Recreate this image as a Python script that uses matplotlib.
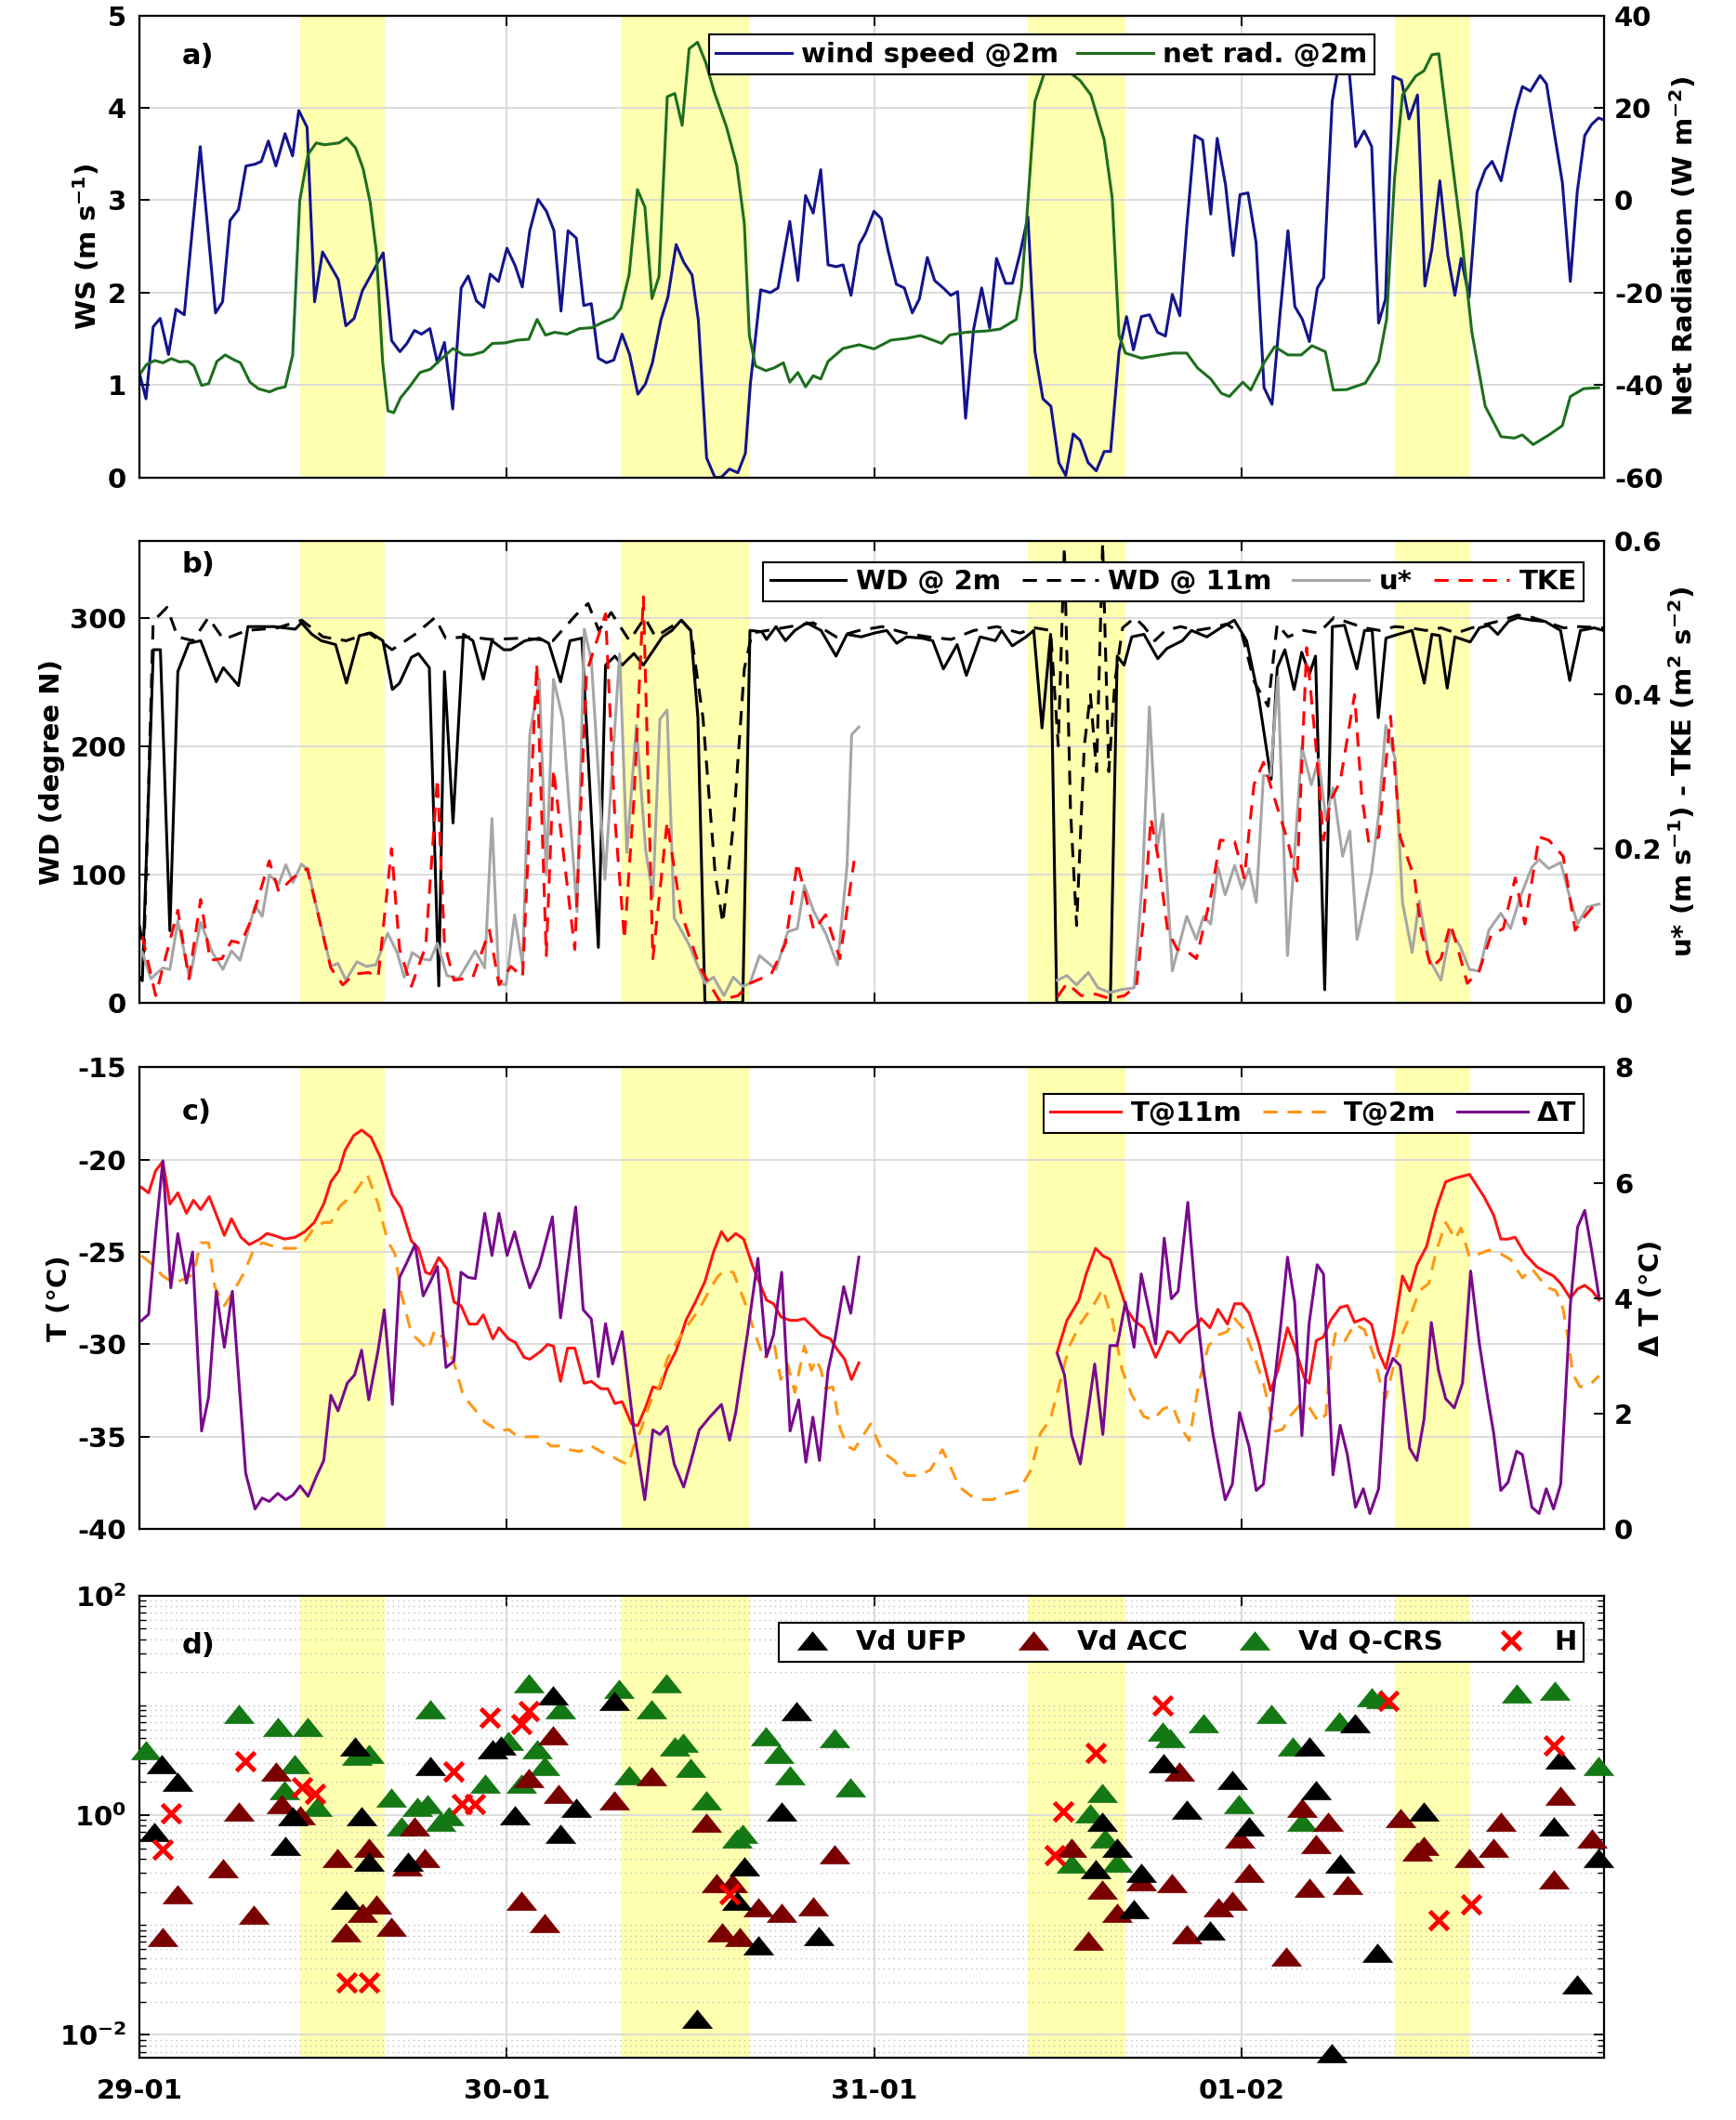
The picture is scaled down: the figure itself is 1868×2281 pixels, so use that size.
import numpy as np
import matplotlib
matplotlib.use("Agg")
import matplotlib.pyplot as plt
from matplotlib.lines import Line2D
from matplotlib.ticker import LogLocator, NullFormatter

plt.rcParams['font.family'] = ['DejaVu Sans']
plt.rcParams['font.weight'] = 'bold'
plt.rcParams['axes.labelweight'] = 'bold'
plt.rcParams['mathtext.fontset'] = 'dejavusans'
plt.rcParams['mathtext.default'] = 'bf'
plt.rcParams['axes.unicode_minus'] = False
plt.rcParams['font.size'] = 21

# time axis: hours since 29-01 00:00
day_labels = ["29-01", "30-01", "31-01", "01-02"]
day_spans_h = [(10.5, 16.0), (31.5, 39.9), (58.0, 64.4), (82.0, 86.9)]

# ---- panel a: (hour, value)
ws_pts = [(0.0,1.13),(0.43,0.85),(0.9,1.63),(1.36,1.72),(1.9,1.33),(2.39,1.82),(2.93,1.76),(3.97,3.58),
          (4.97,1.78),(5.43,1.9),(5.92,2.78),(6.47,2.9),(6.96,3.37),(7.55,3.39),(7.96,3.42),(8.42,3.64),
          (8.91,3.37),(9.51,3.72),(10.0,3.48),(10.41,3.97),(10.95,3.79),(11.44,1.9),(11.96,2.44),(12.99,2.14),
          (13.48,1.64),(14.02,1.72),(14.56,2.02),(15.92,2.43),(16.47,1.48),(17.01,1.36),(17.47,1.45),(17.96,1.59),
          (18.42,1.55),(18.97,1.61),(19.46,1.24),(19.92,1.46),(20.46,0.74),(21.01,2.05),(21.47,2.18),(22.01,1.91),
          (22.5,1.84),(22.91,2.2),(23.45,2.12),(24.0,2.48),(24.54,2.29),(25.0,2.06),(25.49,2.67),(26.03,3.01),
          (26.58,2.88),(27.07,2.67),(27.53,1.8),(27.99,2.67),(28.53,2.59),(29.02,1.86),(29.51,1.88),(29.97,1.29),
          (30.5,1.24),(30.98,1.27),(31.52,1.55),(32.01,1.33),(32.55,0.9),(33.04,1.01),(33.5,1.24),(34.05,1.7),
          (34.51,1.95),(35.05,2.52),(35.54,2.33),(36.09,2.19),(36.5,1.7),(37.04,0.21),(37.58,0.0),(37.99,0.0),
          (38.53,0.09),(39.08,0.05),(39.57,0.26),(39.89,1.0),(40.57,2.03),(41.2,2.0),(41.7,2.05),(42.47,2.77),
          (43.0,2.13),(43.5,3.05),(44.0,2.86),(44.49,3.33),(44.97,2.3),(45.5,2.28),(45.95,2.3),(46.47,1.97),
          (47.0,2.52),(47.41,2.64),(47.97,2.88),(48.45,2.8),(48.91,2.44),(49.43,2.09),(49.95,2.05),(50.47,1.78),
          (50.93,1.93),(51.45,2.38),(51.93,2.13),(52.49,2.05),(52.98,1.97),(53.43,2.01),(53.95,0.64),(54.47,1.6),
          (55.0,2.05),(55.52,1.62),(55.97,2.37),(56.56,2.1),(57.01,2.1),(57.5,2.42),(58.02,2.82),(58.48,1.36),
          (59.0,0.85),(59.52,0.77),(60.04,0.16),(60.49,0.02),(60.98,0.47),(61.43,0.4),(61.95,0.16),(62.48,0.07),
          (63.0,0.28),(63.42,0.28),(63.97,1.36),(64.46,1.74),(64.91,1.38),(65.43,1.74),(65.96,1.76),(66.48,1.57),
          (67.0,1.53),(67.45,1.98),(67.94,1.75),(68.39,2.71),(68.91,3.7),(69.43,3.65),(69.96,2.85),(70.38,3.67),
          (70.93,3.16),(71.42,2.4),(71.87,3.06),(72.39,3.08),(72.92,2.54),(73.44,0.97),(73.96,0.79),(74.48,1.76),
          (75.0,2.67),(75.45,1.85),(75.94,1.71),(76.4,1.47),(76.92,2.05),(77.33,2.16),(77.89,4.07),(78.4,4.55),
          (79.0,4.4),(79.42,3.58),(79.98,3.75),(80.47,3.58),(80.92,1.67),(81.37,1.93),(81.86,4.34),(82.41,4.3),
          (82.9,3.88),(83.46,4.14),(83.94,2.07),(84.4,2.47),(84.92,3.21),(85.44,2.4),(85.9,1.97),(86.31,2.37),
          (86.83,1.95),(87.35,3.09),(87.88,3.33),(88.33,3.42),(88.92,3.21),(89.37,3.58),(89.86,3.97),(90.31,4.23),
          (90.83,4.18),(91.46,4.35),(91.88,4.26),(92.4,3.72),(92.92,3.19),(93.44,2.12),(93.89,3.09),(94.38,3.7),
          (94.83,3.82),(95.28,3.89),(95.6,3.87)]

netrad_pts = [(0.11,-37.3),(0.46,-35.6),(1.0,-34.7),(1.54,-35.2),(2.08,-34.3),(2.62,-35.0),(3.17,-34.9),(3.57,-35.9),
              (4.06,-40.1),(4.52,-39.7),(5.06,-34.9),(5.6,-33.5),(6.14,-34.5),(6.6,-35.2),(7.22,-39.4),(7.77,-40.8),
              (8.5,-41.5),(8.98,-40.8),(9.52,-40.4),(10.01,-33.5),(10.47,-0.1),(11.01,9.9),(11.55,12.4),(12.09,12.0),
              (13.04,12.4),(13.53,13.5),(14.12,11.3),(14.61,6.8),(15.07,-0.5),(15.48,-11.3),(15.88,-34.9),(16.23,-45.6),
              (16.61,-46.0),(17.05,-42.8),(17.64,-40.4),(18.32,-37.3),(18.99,-36.6),(19.67,-34.5),(20.48,-32.1),
              (21.16,-33.5),(21.7,-33.5),(22.46,-32.8),(23.05,-31.0),(23.86,-30.9),(24.68,-30.3),(25.43,-30.1),
              (25.97,-25.8),(26.52,-29.2),(27.11,-28.6),(27.92,-29.0),(28.73,-27.8),(29.55,-27.6),(30.22,-26.5),
              (30.95,-25.5),(31.44,-23.4),(31.98,-16.1),(32.52,2.3),(33.01,-1.5),(33.47,-21.3),(33.93,-16.5),
              (34.47,22.4),(34.96,23.1),(35.44,16.2),(35.9,32.8),(36.45,34.2),(36.99,29.7),(37.53,23.5),(38.34,15.8),
              (39.01,7.5),(39.5,-5.0),(39.83,-29.3),(40.23,-35.9),(40.91,-36.9),(41.45,-36.3),(42.05,-35.2),
              (42.47,-39.4),(43.0,-37.3),(43.5,-40.4),(44.0,-38.0),(44.49,-38.7),(44.97,-34.9),(45.95,-32.1),
              (47.0,-31.3),(47.97,-32.2),(49.08,-30.3),(50.12,-29.9),(51.0,-29.3),(52.39,-31.0),(52.91,-29.2),
              (53.95,-28.6),(55.34,-28.3),(56.21,-27.9),(57.26,-25.8),(57.6,-18.9),(57.95,-3.6),(58.48,21.4),
              (59.17,28.3),(60.21,29.0),(61.43,25.9),(62.13,22.8),(63.0,13.1),(63.52,0.6),(63.97,-29.3),(64.39,-33.1),
              (65.43,-34.2),(66.48,-33.6),(67.52,-33.1),(68.39,-33.1),(69.09,-36.3),(69.96,-38.7),(70.65,-41.8),
              (71.17,-42.5),(72.05,-39.4),(72.57,-41.1),(73.44,-35.2),(74.13,-31.7),(75.0,-33.5),(75.87,-33.5),
              (76.57,-31.5),(77.44,-32.8),(77.96,-41.1),(78.83,-41.0),(80.05,-39.6),(80.92,-34.9),(81.44,-25.8),
              (81.96,4.7),(82.48,22.8),(83.35,26.9),(83.88,28.0),(84.4,31.5),(84.85,31.7),(85.44,15.8),(86.31,-7.1),
              (87.01,-28.6),(87.88,-44.6),(88.92,-51.2),(89.79,-51.5),(90.31,-50.8),(91.01,-52.9),(92.05,-50.8),
              (92.92,-48.8),(93.44,-42.5),(94.31,-40.8),(95.29,-40.6)]

# ---- panel b
wd2_pts = [(0.0,20),(0.19,17),(0.91,275),(1.37,275),(1.99,56),(2.51,258),(3.23,280),(4.0,282),(5.02,250),(5.48,261),
           (6.47,247),(7.09,293),(8.79,293),(10.18,291),(10.58,296),(11.26,287),(11.88,282),(12.81,279),(13.52,249),
           (14.36,286),(15.13,288),(15.9,282),(16.52,244),(16.99,249),(17.76,269),(18.22,272),(18.93,261),(19.55,13),
           (19.92,258),(20.48,140),(21.16,287),(21.78,282),(22.46,252),(23.02,282),(23.79,275),(24.25,275),
           (25.18,282),(26.11,284),(26.73,280),(27.5,250),(28.12,282),(28.89,284),(29.97,43),(30.44,263),(31.05,270),
           (31.52,263),(32.29,272),(32.91,263),(34.15,285),(34.77,290),(35.38,298),(36.0,290),(36.47,222),(36.93,0),
           (39.4,0),(39.87,290),(40.64,289),(40.95,283),(41.57,293),(42.19,282),(42.8,290),(43.58,296),(44.51,290),
           (45.49,270),(46.2,287),(47.13,285),(48.0,288),(48.8,290),(49.45,280),(50.1,285),(51.1,284),(51.8,282),
           (52.5,260),(53.4,279),(54.0,255),(54.9,285),(55.9,282),(56.3,290),(57.0,278),(57.9,285),(58.4,290),
           (58.94,214),(59.5,287),(59.9,0),(63.4,0),(63.85,270),(64.3,263),(64.8,285),(65.6,287),(66.5,268),
           (67.1,276),(68.1,282),(68.7,290),(69.7,285),(70.6,292),(71.5,298),(72.3,282),(73.1,237),(73.9,174),
           (74.3,261),(74.8,275),(75.4,244),(75.9,273),(76.4,256),(76.8,270),(77.4,10),(77.9,293),(78.7,294),
           (79.5,260),(80.0,290),(80.5,290),(80.9,222),(81.4,284),(82.2,287),(83.1,290),(83.9,249),(84.4,287),
           (84.9,286),(85.4,245),(85.9,285),(86.9,281),(87.5,292),(88.1,294),(88.7,287),(89.4,297),(90.0,300),
           (90.9,298),(91.8,297),(92.8,290),(93.4,251),(94.1,290),(95.0,292),(95.6,290)]

wd11_pts = [(0.0,60),(0.3,40),(0.9,297),(1.8,308),(2.5,285),(3.5,282),(4.5,300),(5.5,283),(7.0,290),(9.0,292),
            (10.6,298),(12.0,285),(13.5,282),(15.0,288),(16.5,275),(18.0,287),(19.3,300),(20.0,284),(21.5,285),
            (23.0,283),(25.0,284),(27.0,282),(28.5,302),(29.3,311),(30.0,290),(30.8,304),(32.0,282),(33.0,300),
            (33.7,285),(35.4,298),(36.0,290),(36.8,222),(37.6,100),(38.1,62),(38.8,140),(39.5,260),(40.0,288),
            (41.0,290),(42.5,293),(44.0,296),(45.5,285),(47.0,290),(48.5,293),(50.0,288),(51.5,285),(53.0,283),
            (54.5,290),(56.0,293),(57.5,288),(58.5,292),(59.5,290),(60.0,200),(60.4,355),(60.8,150),(61.2,60),
            (61.7,200),(62.1,240),(62.5,180),(62.9,358),(63.3,180),(63.7,250),(64.2,292),(65.0,300),(65.6,293),
            (66.3,282),(67.0,290),(68.0,293),(69.0,290),(70.0,292),(71.0,295),(72.0,287),(72.8,250),(73.7,231),
            (74.3,295),(75.0,285),(76.0,290),(77.0,288),(78.0,300),(79.0,296),(80.0,292),(81.0,290),(82.0,293),
            (83.0,292),(84.0,290),(85.0,292),(86.0,288),(87.0,292),(88.0,295),(89.0,298),(90.0,302),(91.0,300),
            (92.0,296),(93.0,292),(94.0,293),(95.6,292)]

ustar_pts = [(0.19,0.065),(0.75,0.031),(1.52,0.045),(1.99,0.043),(2.51,0.106),(3.29,0.031),(4.0,0.104),(4.77,0.065),
             (5.45,0.043),(6.01,0.067),(6.57,0.055),(7.55,0.126),(8.02,0.112),(8.48,0.166),(9.1,0.154),(9.56,0.179),
             (10.03,0.156),(10.58,0.18),(11.02,0.172),(11.73,0.11),(12.5,0.047),(12.96,0.051),(13.49,0.029),
             (14.2,0.053),(14.82,0.047),(15.44,0.049),(16.21,0.09),(16.83,0.065),(17.29,0.033),(17.82,0.065),
             (18.38,0.057),(18.99,0.055),(19.46,0.077),(20.08,0.035),(20.85,0.031),(21.93,0.067),(22.55,0.045),
             (23.02,0.239),(23.48,0.025),(23.94,0.023),(24.5,0.114),(25.02,0.049),(25.49,0.348),(26.11,0.42),
             (26.57,0.166),(27.04,0.42),(27.65,0.368),(28.58,0.118),(29.05,0.485),(29.51,0.445),(30.4,0.16),
             (31.36,0.453),(31.83,0.195),(32.45,0.36),(33.06,0.198),(33.53,0.138),(33.99,0.368),(34.46,0.38),
             (34.92,0.11),(35.85,0.077),(36.93,0.025),(37.49,0.033),(38.17,0.009),(38.78,0.033),(39.4,0.021),
             (39.87,0.025),(40.49,0.061),(41.57,0.043),(42.34,0.092),(42.96,0.096),(43.42,0.152),(44.04,0.118),
             (44.81,0.09),(45.59,0.049),(46.21,0.178),(46.51,0.348),(46.98,0.358),(53.0,np.nan),
             (59.94,0.029),(60.57,0.035),(61.19,0.023),(61.97,0.039),(62.6,0.019),(63.38,0.013),(64.17,0.017),
             (64.95,0.019),(65.51,0.162),(65.95,0.384),(66.45,0.199),(66.83,0.245),(67.45,0.041),(68.39,0.112),
             (69.02,0.082),(69.49,0.112),(69.96,0.102),(70.43,0.176),(70.9,0.14),(71.52,0.178),(71.99,0.148),
             (72.46,0.174),(72.93,0.13),(73.4,0.295),(73.87,0.295),(74.34,0.423),(74.97,0.061),(75.44,0.195),
             (75.91,0.332),(76.53,0.283),(77.0,0.316),(77.47,0.239),(77.94,0.279),(78.57,0.19),(79.04,0.223),
             (79.51,0.082),(80.45,0.168),(80.92,0.243),(81.39,0.36),(82.01,0.316),(82.48,0.13),(83.11,0.065),
             (83.58,0.132),(84.2,0.057),(84.99,0.029),(85.61,0.094),(86.24,0.073),(86.86,0.043),(87.49,0.041),
             (88.12,0.094),(88.9,0.116),(89.53,0.096),(90.15,0.136),(90.93,0.176),(91.4,0.186),(92.03,0.174),
             (92.81,0.182),(93.44,0.134),(93.91,0.102),(94.54,0.124),(95.32,0.128)]

tke_pts = [(0.19,0.086),(1.06,0.009),(2.51,0.12),(3.23,0.031),(4.0,0.134),(4.62,0.055),(5.39,0.057),(6.01,0.08),
           (6.63,0.077),(7.4,0.112),(8.48,0.184),(9.1,0.144),(10.03,0.162),(10.96,0.174),(12.5,0.045),(13.28,0.023),
           (14.05,0.037),(14.98,0.039),(15.59,0.033),(16.46,0.2),(16.99,0.069),(17.76,0.021),(18.69,0.073),
           (19.46,0.291),(19.92,0.077),(20.54,0.029),(21.78,0.033),(22.86,0.094),(23.48,0.023),(24.25,0.047),
           (25.02,0.033),(25.95,0.44),(26.57,0.061),(27.04,0.303),(28.43,0.069),(29.2,0.429),(30.44,0.505),
           (31.05,0.239),(31.67,0.082),(32.29,0.263),(32.91,0.527),(33.53,0.057),(34.46,0.235),(35.38,0.116),
           (36.62,0.045),(37.86,0.003),(39.09,0.009),(39.87,0.025),(41.26,0.037),(42.19,0.077),(42.96,0.182),
           (44.04,0.094),(44.81,0.114),(45.74,0.057),(46.67,0.184),(53.0,np.nan),
           (59.94,0.007),(60.57,0.025),(61.5,0.009),(62.44,0.011),(63.38,0.005),(64.32,0.009),(65.1,0.021),
           (65.58,0.11),(66.05,0.239),(66.51,0.19),(67.14,0.094),(67.77,0.069),(68.39,0.067),(69.02,0.057),
           (69.96,0.138),(70.58,0.211),(71.52,0.209),(72.15,0.162),(72.78,0.283),(73.4,0.312),(74.03,0.271),
           (74.97,0.211),(75.59,0.158),(76.22,0.461),(76.85,0.328),(77.32,0.211),(77.79,0.263),(78.41,0.287),
           (79.35,0.4),(79.82,0.267),(80.29,0.207),(80.92,0.215),(81.7,0.372),(82.33,0.215),(83.26,0.162),
           (83.73,0.09),(84.36,0.045),(84.99,0.057),(85.61,0.102),(86.08,0.071),(86.71,0.025),(87.49,0.041),
           (88.27,0.088),(89.06,0.096),(89.84,0.162),(90.47,0.102),(91.4,0.215),(92.03,0.211),(92.97,0.19),
           (93.75,0.094),(94.38,0.112),(95.32,0.134)]

# ---- panel c
t11_pts = [(0.13,-21.5),(0.6,-21.8),(1.06,-20.6),(1.53,-20.1),(1.99,-22.4),(2.51,-21.8),(3.07,-22.9),(3.53,-22.2),
           (4.0,-22.7),(4.56,-22.0),(5.55,-24.1),(6.01,-23.2),(6.63,-24.2),(7.18,-24.6),(7.86,-24.3),(8.33,-24.0),
           (8.79,-24.1),(9.47,-24.3),(10.18,-24.2),(10.8,-23.9),(11.42,-23.4),(12.04,-22.4),(12.5,-21.2),
           (13.03,-20.6),(13.43,-19.5),(13.99,-18.7),(14.51,-18.4),(15.13,-18.8),(15.75,-19.9),(16.52,-21.9),
           (17.08,-22.6),(17.76,-24.4),(18.22,-24.8),(18.69,-26.1),(19.0,-26.2),(19.55,-25.3),(20.08,-25.9),
           (20.54,-27.7),(21.0,-27.9),(21.53,-28.9),(22.03,-28.9),(22.46,-28.4),(23.08,-29.7),(23.48,-29.1),
           (24.1,-29.7),(24.56,-29.9),(25.12,-30.7),(25.49,-30.8),(26.17,-30.4),(26.66,-30.0),(27.04,-30.1),
           (27.5,-32.0),(27.96,-30.2),(28.43,-30.2),(29.04,-32.1),(29.51,-32.0),(30.13,-32.4),(30.59,-32.4),
           (31.05,-33.2),(31.52,-33.1),(32.14,-34.3),(32.54,-34.4),(33.06,-33.4),(33.53,-32.3),(33.99,-32.4),
           (34.46,-31.3),(35.07,-30.3),(35.69,-28.7),(36.31,-27.7),(36.93,-26.6),(37.49,-25.0),(38.01,-23.9),
           (38.41,-24.4),(38.94,-24.0),(39.46,-24.3),(40.02,-25.7),(40.95,-27.6),(41.41,-27.8),(41.88,-28.5),
           (42.49,-28.7),(42.96,-28.7),(43.42,-28.6),(44.04,-29.1),(44.51,-29.5),(45.12,-29.7),(45.59,-30.3),
           (46.05,-30.8),(46.5,-31.9),(46.98,-31.0),(53.0,np.nan),
           (59.94,-30.4),(60.57,-28.7),(61.35,-27.6),(61.82,-26.2),(62.44,-24.8),(62.91,-25.2),(63.38,-25.4),
           (63.85,-26.5),(64.48,-28.1),(64.95,-28.7),(65.58,-29.1),(66.36,-30.7),(67.14,-29.3),(67.45,-29.4),
           (67.92,-29.9),(68.39,-29.4),(69.02,-29.0),(69.33,-28.6),(69.9,-29.1),(70.43,-28.1),(71.05,-28.9),
           (71.52,-27.8),(71.99,-27.8),(72.46,-28.3),(73.09,-29.9),(73.87,-32.5),(74.34,-31.4),(74.97,-29.1),
           (75.44,-30.1),(76.06,-31.8),(76.38,-32.1),(76.85,-29.8),(77.32,-29.6),(77.79,-28.7),(78.41,-28.0),
           (78.88,-27.9),(79.35,-28.8),(79.98,-28.6),(80.45,-28.9),(80.92,-30.4),(81.39,-31.3),(81.86,-29.6),
           (82.48,-26.3),(82.95,-27.1),(83.42,-25.7),(84.05,-24.7),(84.67,-22.7),(85.3,-21.2),(85.93,-21.0),
           (86.4,-20.9),(86.86,-20.8),(87.8,-22.0),(88.43,-23.0),(88.9,-24.3),(89.37,-24.3),(89.84,-24.2),
           (90.47,-25.1),(91.25,-25.8),(91.87,-26.1),(92.34,-26.3),(92.81,-26.7),(93.44,-27.5),(93.91,-27.0),
           (94.38,-26.8),(94.85,-27.1),(95.32,-27.6)]

t2_pts = [(0.13,-25.2),(0.75,-25.6),(1.53,-26.3),(2.3,-26.7),(3.07,-26.4),(3.53,-26.2),(4.0,-24.5),(4.52,-24.5),
          (4.93,-26.9),(5.55,-27.9),(6.16,-27.1),(6.78,-26.2),(7.4,-25.0),(8.02,-24.5),(8.79,-24.7),(9.41,-24.8),
          (10.18,-24.8),(10.8,-24.4),(11.42,-23.7),(12.04,-23.4),(12.5,-23.4),(13.12,-22.5),(14.05,-21.8),
          (14.88,-20.8),(15.59,-22.4),(16.21,-24.4),(16.68,-25.1),(17.14,-27.4),(17.76,-29.4),(18.38,-29.9),
          (18.84,-30.3),(19.3,-29.2),(19.92,-29.7),(20.54,-31.0),(21.16,-32.8),(21.78,-33.4),(22.55,-34.2),
          (23.48,-34.7),(24.1,-34.6),(24.72,-35.0),(25.49,-35.0),(26.11,-35.0),(26.88,-35.5),(27.5,-35.5),
          (28.12,-35.7),(28.74,-35.8),(29.51,-35.5),(30.13,-35.8),(30.75,-36.0),(31.36,-36.3),(31.92,-36.5),
          (32.29,-35.5),(32.76,-34.6),(33.37,-33.1),(33.99,-32.2),(34.46,-30.8),(35.07,-29.9),(35.69,-29.1),
          (36.47,-28.2),(37.08,-27.3),(37.7,-26.4),(38.17,-26.0),(38.78,-26.1),(39.25,-27.1),(39.71,-28.1),
          (40.18,-29.4),(40.8,-30.8),(41.41,-29.8),(41.88,-31.9),(42.34,-31.1),(42.8,-32.6),(43.42,-30.1),
          (43.89,-31.4),(44.2,-30.8),(44.51,-31.4),(44.81,-32.4),(45.28,-32.3),(45.74,-34.5),(46.21,-35.5),
          (46.67,-35.7),(47.29,-34.9),(47.75,-34.3),(48.51,-35.8),(49.3,-36.3),(50.08,-37.1),(50.86,-37.1),
          (51.64,-36.8),(52.43,-35.7),(52.9,-36.5),(53.52,-37.7),(54.3,-38.2),(55.09,-38.4),(55.71,-38.4),
          (56.5,-38.1),(57.43,-37.9),(58.22,-36.8),(58.84,-34.8),(59.47,-34.1),(60.1,-32.1),(60.72,-30.1),
          (61.5,-28.8),(62.29,-27.9),(62.91,-27.0),(63.54,-28.7),(64.17,-31.4),(64.79,-32.7),(65.58,-33.9),
          (66.2,-34.1),(66.83,-33.5),(67.45,-33.3),(68.08,-34.6),(68.55,-35.2),(69.18,-32.1),(69.8,-30.1),
          (70.43,-29.5),(71.05,-29.3),(71.52,-28.6),(72.15,-29.2),(72.78,-30.6),(73.4,-32.1),(73.87,-33.8),
          (74.18,-34.7),(74.65,-34.6),(75.12,-33.9),(75.75,-33.3),(76.38,-33.4),(77.0,-34.2),(77.47,-33.8),
          (77.79,-30.8),(78.1,-29.4),(78.72,-29.8),(79.35,-28.9),(79.98,-29.2),(80.6,-30.6),(81.07,-32.2),
          (81.39,-32.9),(81.86,-31.3),(82.48,-29.4),(83.11,-28.2),(83.58,-27.1),(84.2,-26.7),(84.67,-25.0),
          (85.3,-23.4),(85.93,-24.3),(86.3,-23.7),(86.86,-25.3),(87.49,-25.1),(88.12,-24.9),(88.9,-25.1),
          (89.53,-25.4),(90.31,-26.4),(90.93,-25.9),(91.87,-26.9),(92.5,-27.1),(92.97,-28.1),(93.28,-29.6),
          (93.6,-31.6),(94.07,-32.3),(94.69,-32.2),(95.32,-31.7)]

dt_pts = [(0.13,3.61),(0.6,3.72),(1.06,5.12),(1.53,6.38),(2.05,4.18),(2.51,5.12),(3.07,4.26),(3.47,4.8),(4.06,1.70),
          (4.52,2.29),(5.02,4.12),(5.55,3.15),(6.07,4.12),(6.94,0.97),(7.55,0.35),(8.02,0.54),(8.48,0.48),(9.04,0.62),
          (9.56,0.51),(10.03,0.59),(10.49,0.75),(11.02,0.57),(11.57,0.92),(12.04,1.19),(12.5,2.32),(12.97,2.05),
          (13.58,2.53),(14.05,2.67),(14.51,3.1),(14.98,2.24),(15.59,3.1),(15.99,3.8),(16.52,2.16),(16.99,4.36),
          (17.45,4.61),(18.0,4.93),(18.53,4.04),(18.99,4.28),(19.46,4.55),(20.02,2.8),(20.54,2.91),(21.0,4.45),
          (21.47,4.36),(21.93,4.34),(22.55,5.47),(23.02,4.74),(23.48,5.47),(24.01,4.74),(24.5,5.15),(25.02,4.61),
          (25.49,4.18),(26.11,4.55),(26.97,5.41),(27.5,3.66),(28.49,5.58),(28.98,3.8),(29.51,3.64),(29.97,2.64),
          (30.44,3.56),(30.9,2.86),(31.52,3.42),(32.29,1.72),(33.0,0.51),(33.53,1.72),(33.99,1.64),(34.46,1.78),
          (34.92,1.13),(35.54,0.73),(36.0,1.16),(36.56,1.72),(37.24,1.94),(38.01,2.16),(38.54,1.54),(38.94,2.02),
          (39.71,3.39),(40.39,4.69),(40.95,2.99),(41.41,3.37),(41.94,4.45),(42.49,1.7),(43.05,2.24),(43.52,1.16),
          (43.98,1.94),(44.41,1.19),(44.97,2.75),(45.43,3.31),(45.99,4.2),(46.45,3.74),(46.98,4.71),(53.0,np.nan),
          (59.94,3.04),(60.41,2.67),(60.88,1.62),(61.44,1.13),(61.98,2.1),(62.38,2.86),(62.91,1.64),(63.38,3.18),
          (63.85,3.18),(64.39,3.93),(64.95,3.15),(65.42,4.42),(65.89,3.83),(66.36,3.21),(66.92,5.04),(67.39,3.99),
          (67.83,4.12),(68.46,5.66),(69.02,3.85),(69.49,2.75),(70.12,1.62),(70.9,0.51),(71.37,0.78),(71.84,2.02),
          (72.46,1.43),(72.93,0.67),(73.4,0.78),(74.03,2.32),(74.5,3.45),(74.97,4.71),(75.44,3.93),(75.91,1.62),
          (76.38,3.56),(76.91,4.58),(77.32,4.42),(77.94,0.94),(78.41,1.8),(78.88,1.29),(79.41,0.38),(79.92,0.7),
          (80.35,0.27),(80.92,0.7),(81.39,2.64),(81.86,2.96),(82.33,2.83),(82.95,1.4),(83.42,1.19),(83.89,1.91),
          (84.36,3.58),(84.83,2.75),(85.3,2.26),(85.86,2.1),(86.4,2.53),(86.93,4.47),(87.49,3.23),(88.05,2.26),
          (88.43,1.67),(88.9,0.67),(89.37,0.81),(89.93,1.35),(90.31,1.29),(90.93,0.38),(91.4,0.27),(91.87,0.7),
          (92.34,0.35),(92.81,0.78),(93.44,3.88),(93.91,5.23),(94.38,5.52),(94.85,4.8),(95.3,4.04)]

# ---- panel d (hour, value)
ufp_pts = [(0.96,0.71),(1.47,2.9),(2.49,2.0),(9.53,0.53),(10.04,0.98),(13.48,0.17),(14.05,4.2),(14.5,0.98),
           (15.01,0.38),(17.52,0.38),(18.99,2.8),(23.07,4.0),(23.58,4.3),(24.5,1.0),(26.98,12.3),(27.49,0.68),
           (28.51,1.17),(30.99,11.1),(36.44,0.014),(39.05,0.166),(39.5,0.34),(40.42,0.065),(41.95,1.09),(42.9,8.9),
           (44.39,0.08),(62.45,0.32),(62.9,0.88),(63.85,0.51),(64.95,0.14),(65.4,0.30),(66.89,3.0),(68.4,1.13),
           (69.9,0.09),(71.37,2.1),(72.46,0.79),(76.38,4.2),(76.85,1.7),(77.88,0.0068),(78.41,0.36),(79.35,6.9),
           (80.85,0.056),(83.89,1.09),(92.34,0.79),(92.8,3.2),(93.9,0.029),(95.25,0.41)]
acc_pts = [(1.54,0.078),(2.49,0.19),(5.48,0.33),(6.5,1.09),(7.49,0.124),(8.95,2.5),(9.29,1.26),(10.48,1.0),
           (12.93,0.41),(13.48,0.086),(14.56,0.13),(15.01,0.51),(15.48,0.155),(16.44,0.096),(17.46,0.34),(17.97,0.79),
           (18.65,0.41),(24.94,0.166),(25.45,2.2),(26.47,0.104),(26.98,5.4),(27.39,1.57),(30.99,1.36),(33.44,2.25),
           (37.0,0.85),(37.69,0.24),(38.03,0.086),(38.72,0.24),(39.22,0.078),(40.42,0.144),(41.95,0.13),
           (43.99,0.149),(45.41,0.44),(60.88,0.51),(61.98,0.072),(62.9,0.21),(63.85,0.13),(65.4,0.25),(67.45,0.24),
           (67.92,2.5),(68.4,0.083),(70.43,0.144),(71.37,0.166),(71.84,0.61),(72.46,0.30),(74.9,0.052),(75.9,1.17),
           (76.38,0.22),(76.85,0.55),(77.63,0.88),(78.88,0.23),(82.33,0.94),(83.42,0.47),(83.89,0.53),(86.86,0.41),
           (88.43,0.51),(88.9,0.88),(92.34,0.26),(92.8,1.51),(94.85,0.61)]
qcrs_pts = [(0.45,3.9),(6.47,8.3),(9.02,6.4),(9.46,1.7),(10.14,2.9),(10.99,6.4),(11.57,1.2),(14.22,3.5),(15.01,3.6),
            (16.44,1.46),(17.12,0.79),(18.14,1.2),(18.82,1.26),(18.99,9.2),(19.67,0.88),(20.18,0.98),(22.56,1.95),
            (24.09,4.8),(24.94,1.95),(25.45,15.9),(25.96,4.0),(26.47,2.8),(27.49,9.2),(31.33,14.3),(32.01,2.3),
            (33.44,9.2),(34.4,15.9),(34.97,4.2),(35.48,4.6),(35.99,2.7),(37.0,1.36),(39.05,0.61),(39.39,0.68),
            (40.93,5.2),(41.78,3.6),(42.46,2.3),(45.41,5.0),(46.44,1.8),(60.88,0.36),(62.1,1.05),(62.9,1.6),
            (63.07,0.61),(63.85,0.37),(66.83,5.8),(67.3,5.0),(69.5,6.9),(71.8,1.26),(73.9,8.3),(75.3,4.2),(75.9,0.88),
            (78.35,7.2),(80.45,11.9),(81.07,11.5),(89.93,12.8),(92.4,13.7),(95.3,2.8)]
h_pts = [(1.54,0.49),(2.08,1.05),(6.91,3.1),(10.65,1.8),(11.44,1.57),(13.54,0.030),(15.01,0.030),(20.52,2.5),
         (21.03,1.26),(21.88,1.26),(22.9,7.7),(24.94,6.7),(25.45,8.9),(38.55,0.19),(59.78,0.43),(60.3,1.09),
         (62.45,3.7),(66.83,9.9),(81.54,11.1),(84.83,0.111),(86.96,0.155),(92.34,4.3)]


def series(pts):
    a = np.array(pts, dtype=float)
    return a[:, 0] / 24.0, a[:, 1]


W, H = 1868, 2281
fig = plt.figure(figsize=(W / 100, H / 100), dpi=100)
left, width = 150 / W, 1576 / W
tops = [16.6, 581.7, 1148.3, 1716.8]
hgt = 497
axes = [fig.add_axes([left, 1 - (t + hgt) / H, width, hgt / H]) for t in tops]

grid_c = '#d9d9d9'
yellow = '#ffffb0'
lw = 2.2
dash = (0, (5, 3.5))


def style(ax, twin=None):
    ax.set_xlim(0, 3.985)
    ax.set_xticks([0, 1, 2, 3])
    for sp in ax.spines.values():
        sp.set_linewidth(1.6)
    ax.tick_params(direction='in', length=8, width=1.4, top=True, labelsize=21, pad=10)
    for s0, s1 in day_spans_h:
        ax.axvspan(s0 / 24, s1 / 24, color=yellow, lw=0, zorder=0)
    ax.grid(True, color=grid_c, lw=1.3)
    if twin is not None:
        twin.tick_params(direction='in', length=8, width=1.4, labelsize=21, pad=8)


def panel_label(ax, txt, y):
    ax.text(0.029, y, txt, transform=ax.transAxes, fontsize=22, fontweight='bold',
            ha='left', va='center', zorder=10)


def add_legend(ax, handles, labels, anchor, **kw):
    leg = ax.legend(handles, labels, ncol=len(labels), loc='upper right', bbox_to_anchor=anchor,
                    borderaxespad=0, fancybox=False, edgecolor='black', framealpha=1, fontsize=21,
                    borderpad=0.25, **kw)
    leg.get_frame().set_linewidth(1.5)


# ---------------- a
ax = axes[0]
ax2 = ax.twinx()
style(ax, ax2)
t, v = series(ws_pts)
l1, = ax.plot(t, v, color='#14148c', lw=lw)
t, v = series(netrad_pts)
l2, = ax2.plot(t, v, color='#1e6e1e', lw=lw)
ax.set_ylim(0, 5)
ax2.set_ylim(-60, 40)
ax2.set_yticks([-60, -40, -20, 0, 20, 40])
ax.set_ylabel('WS (m s$^{-1}$)')
ax2.set_ylabel('Net Radiation (W m$^{-2}$)')
ax.set_xticklabels([])
panel_label(ax, 'a)', 0.912)
add_legend(ax2, [l1, l2], ['wind speed @2m', 'net rad. @2m'], (0.843, 0.958),
           handlelength=2.8, handletextpad=0.35, columnspacing=0.7)

# ---------------- b
ax = axes[1]
ax2 = ax.twinx()
style(ax, ax2)
t, v = series(wd2_pts)
l1, = ax.plot(t, v, color='black', lw=lw)
t, v = series(wd11_pts)
l2, = ax.plot(t, v, color='black', lw=lw, ls=dash)
t, v = series(ustar_pts)
l3, = ax2.plot(t, v, color='#a6a6a6', lw=lw)
t, v = series(tke_pts)
l4, = ax2.plot(t, v, color='#ff0000', lw=lw, ls=dash)
ax.set_ylim(0, 360)
ax.set_yticks([0, 100, 200, 300])
ax2.set_ylim(0, 0.6)
ax2.set_yticks([0, 0.2, 0.4, 0.6])
ax2.set_yticklabels(['0', '0.2', '0.4', '0.6'])
ax.set_ylabel('WD (degree N)')
ax2.set_ylabel('u* (m s$^{-1}$) - TKE (m$^{2}$ s$^{-2}$)')
ax.set_xticklabels([])
panel_label(ax, 'b)', 0.948)
add_legend(ax2, [l1, l2, l3, l4], ['WD @ 2m', 'WD @ 11m', 'u*', 'TKE'], (0.986, 0.954),
           handlelength=2.8, handletextpad=0.35, columnspacing=0.8)

# ---------------- c
ax = axes[2]
ax2 = ax.twinx()
style(ax, ax2)
t, v = series(t11_pts)
l1, = ax.plot(t, v, color='#ff1414', lw=lw)
t, v = series(t2_pts)
l2, = ax.plot(t, v, color='#ff9614', lw=lw, ls=dash)
t, v = series(dt_pts)
l3, = ax2.plot(t, v, color='#780a8c', lw=lw)
ax.set_ylim(-40, -15)
ax.set_yticks([-40, -35, -30, -25, -20, -15])
ax2.set_ylim(0, 8)
ax2.set_yticks([0, 2, 4, 6, 8])
ax.set_ylabel('T (°C)')
ax2.set_ylabel('Δ T (°C)')
ax.set_xticklabels([])
panel_label(ax, 'c)', 0.903)
add_legend(ax2, [l1, l2, l3], ['T@11m', 'T@2m', 'ΔT'], (0.986, 0.943),
           handlelength=2.6, handletextpad=0.35, columnspacing=0.8)

# ---------------- d
ax = axes[3]
style(ax)
ax.set_yscale('log')
ax.set_ylim(0.0062, 100)
ax.set_yticks([1e-2, 1e0, 1e2])
ax.yaxis.set_minor_locator(LogLocator(base=10, subs=np.arange(1, 10), numticks=20))
ax.yaxis.set_minor_formatter(NullFormatter())
ax.tick_params(axis='y', which='minor', direction='in', length=5, width=1, right=True)
ax.tick_params(axis='y', which='major', right=True)
ax.grid(True, which='minor', axis='y', color='#bdbdbd', lw=1, ls=(0, (1, 3)))
tri = [(-1, -0.62), (1, -0.62), (0, 0.62), (-1, -0.62)]
ms = 24
series_d = [(qcrs_pts, '#147814', 3), (acc_pts, '#7a0000', 4), (ufp_pts, 'black', 5)]
for pts, col, z in series_d:
    t, v = series(pts)
    ax.plot(t, v, ls='none', marker=tri, ms=ms, color=col, mew=0, zorder=z, clip_on=False)
t, v = series(h_pts)
ax.plot(t, v, ls='none', marker='x', ms=14, mew=3.5, color='#ff0000', zorder=6)
ax.set_xticklabels(day_labels)
ax.tick_params(axis='x', pad=16)
panel_label(ax, 'd)', 0.892)
hd = [Line2D([], [], ls='none', marker=tri, ms=ms, color=c, mew=0) for c in ['black', '#7a0000', '#147814']]
hd.append(Line2D([], [], ls='none', marker='x', ms=14, mew=3.5, color='#ff0000'))
add_legend(ax, hd, ['Vd UFP', 'Vd ACC', 'Vd Q-CRS', 'H'], (0.986, 0.942),
           handlelength=2.0, handletextpad=0.6, columnspacing=1.5)

fig.savefig('out.png', dpi=100)
